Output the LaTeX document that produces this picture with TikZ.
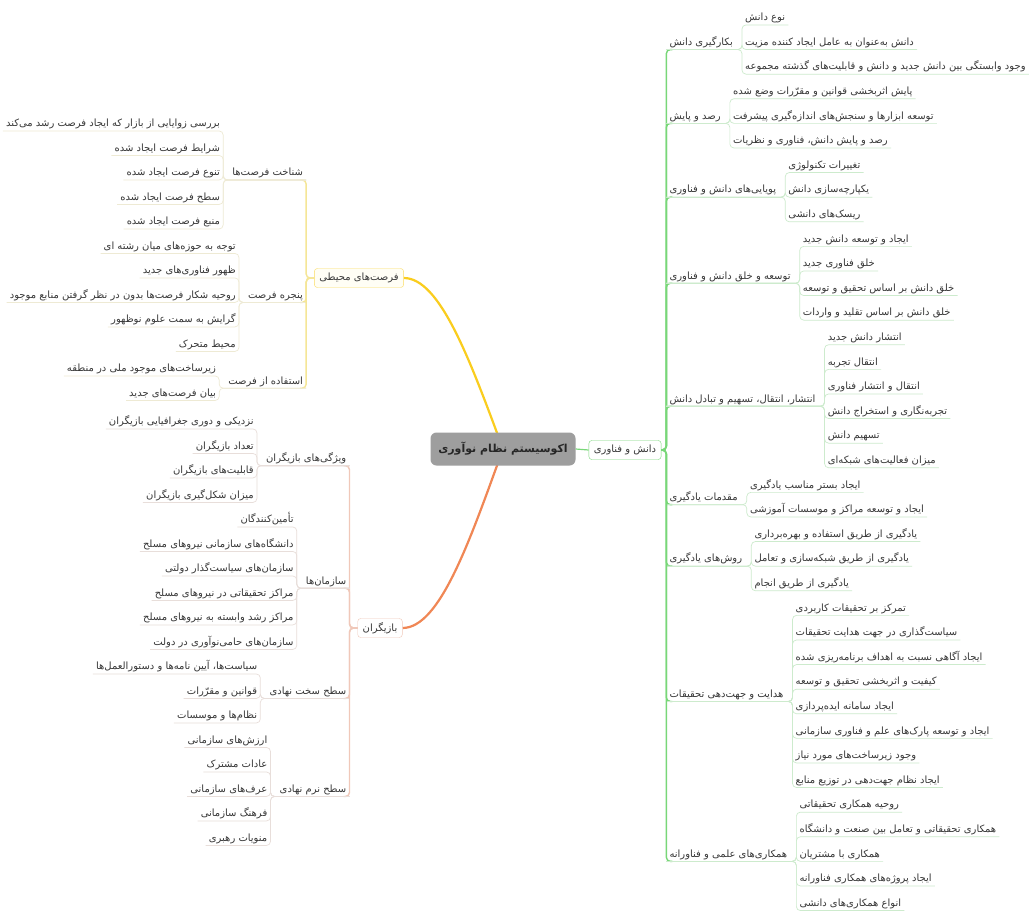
\documentclass[tikz,border=0pt]{standalone}
\usepackage{fontspec}
\usepackage{xcolor}
\usetikzlibrary{positioning,backgrounds}
\newfontfamily\fafont[Script=Arabic]{DejaVu Sans}
\TeXXeTstate=1
\newcommand{\fr}[1]{\beginR #1\endR}

\definecolor{txtgray}{RGB}{55,55,55}
\definecolor{greenT}{RGB}{120,215,120}
\definecolor{greenL}{RGB}{205,235,205}
\definecolor{yelC}{RGB}{250,205,30}
\definecolor{yelT}{RGB}{245,230,150}
\definecolor{yelL}{RGB}{238,234,212}
\definecolor{oraC}{RGB}{240,135,85}
\definecolor{oraT}{RGB}{240,200,185}
\definecolor{oraL}{RGB}{232,222,218}

\tikzset{
  every node/.style={font=\fafont\fontsize{10}{12}\selectfont, text=txtgray},
  leaf/.style={inner xsep=3pt, inner ysep=1pt, text height=8.5pt, text depth=3pt},
  lvtwo/.style={leaf},
  mainbox/.style={rounded corners=3pt, fill=white, inner xsep=5pt, minimum height=19pt},
  trunk/.style={rounded corners=4pt, line width=1.4pt},
  twig/.style={rounded corners=4pt, line width=0.7pt},
  branch/.style={line width=2.2pt},
}

\begin{document}
\begin{tikzpicture}[x=1pt,y=-1pt]
  \useasboundingbox (0,0) rectangle (1030,913);

  \node[fill=black!38, rounded corners=6pt, minimum width=145pt, minimum height=33pt,
        font=\fafont\bfseries\fontsize{11}{13}\selectfont, text=black!85] (eco) at (503,449) {\fr{اکوسیستم نظام نوآوری}};
  \node[mainbox, draw=greenT] (know) at (625,450) {\fr{دانش و فناوری}};
  \node[mainbox, draw=yelC!70, fill=yellow!4] (opp) at (359,278) {\fr{فرصت‌های محیطی}};
  \node[mainbox, draw=oraT] (act) at (380,628) {\fr{بازیگران}};

  \begin{scope}[on background layer]
    \fill[white] (0,0) rectangle (1030,913);
    \draw[branch, yelC] (eco.center) .. controls (470,360) and (440,278) .. (opp.east);
    \draw[branch, oraC] (eco.center) .. controls (470,540) and (440,628) .. (act.east);
    \draw[line width=1.2pt, greenT] (eco.east) -- (know.west);
  \end{scope}

  % right side: knowledge and technology
  \coordinate (kt) at ([xshift=5pt]know.east);
  \foreach \nm/\ptxt/\first/\last/\kids in {
    r1/بکارگیری دانش/0/2/{نوع دانش, دانش به‌عنوان به عامل ایجاد کننده مزیت, وجود وابستگی بین دانش جدید و دانش و قابلیت‌های گذشته مجموعه},
    r2/رصد و پایش/3/5/{پایش اثربخشی قوانین و مقرّرات وضع شده, توسعه ابزارها و سنجش‌های اندازه‌گیری پیشرفت, رصد و پایش دانش، فناوری و نظریات},
    r3/پویایی‌های دانش و فناوری/6/8/{تغییرات تکنولوژی, یکپارچه‌سازی دانش, ریسک‌های دانشی},
    r4/توسعه و خلق دانش و فناوری/9/12/{ایجاد و توسعه دانش جدید, خلق فناوری جدید, خلق دانش بر اساس تحقیق و توسعه, خلق دانش بر اساس تقلید و واردات},
    r5/انتشار، انتقال، تسهیم و تبادل دانش/13/18/{انتشار دانش جدید, انتقال تجربه, انتقال و انتشار فناوری, تجربه‌نگاری و استخراج دانش, تسهیم دانش, میزان فعالیت‌های شبکه‌ای},
    r6/مقدمات یادگیری/19/20/{ایجاد بستر مناسب یادگیری, ایجاد و توسعه مراکز و موسسات آموزشی},
    r7/روش‌های یادگیری/21/23/{یادگیری از طریق استفاده و بهره‌برداری, یادگیری از طریق شبکه‌سازی و تعامل, یادگیری از طریق انجام},
    r8/هدایت و جهت‌دهی تحقیقات/24/31/{تمرکز بر تحقیقات کاربردی, سیاست‌گذاری در جهت هدایت تحقیقات, ایجاد آگاهی نسبت به اهداف برنامه‌ریزی شده, کیفیت و اثربخشی تحقیق و توسعه, ایجاد سامانه ایده‌پردازی, ایجاد و توسعه پارک‌های علم و فناوری سازمانی, وجود زیرساخت‌های مورد نیاز, ایجاد نظام جهت‌دهی در توزیع منابع},
    r9/همکاری‌های علمی و فناورانه/32/36/{روحیه همکاری تحقیقاتی, همکاری تحقیقاتی و تعامل بین صنعت و دانشگاه, همکاری با مشتریان, ایجاد پروژه‌های همکاری فناورانه, انواع همکاری‌های دانشی}}{
    \pgfmathsetmacro{\py}{18+24.6*(\first+\last)/2}
    \node[lvtwo, anchor=west] (\nm) at (kt |- 0,\py) {\fr{\ptxt}};
    \draw[trunk, greenT] (know.east) -- (kt) |- ([xshift=6pt]\nm.south west);
    \coordinate (\nm b) at ([xshift=6pt]\nm.south east);
    \foreach \t [count=\i from \first] in \kids {
      \pgfmathsetmacro{\yy}{18+24.6*\i}
      \node[leaf, anchor=west] (\nm c\i) at (\nm b |- 0,\yy) {\fr{\t}};
      \draw[twig, greenL] (\nm.south west) -- (\nm b) |- (\nm c\i.south east);
    }
  }

  % left side, upper: opportunities
  \coordinate (ot) at ([xshift=-8pt]opp.west);
  \foreach \nm/\ptxt/\first/\last/\kids in {
    l1/شناخت فرصت‌ها/0/4/{بررسی زوایایی از بازار که ایجاد فرصت رشد می‌کند, شرایط فرصت ایجاد شده, تنوع فرصت ایجاد شده, سطح فرصت ایجاد شده, منبع فرصت ایجاد شده},
    l2/پنجره فرصت/5/9/{توجه به حوزه‌های میان رشته ای, ظهور فناوری‌های جدید, روحیه شکار فرصت‌ها بدون در نظر گرفتن منابع موجود, گرایش به سمت علوم نوظهور, محیط متحرک},
    l3/استفاده از فرصت/10/11/{زیرساخت‌های موجود ملی در منطقه, بیان فرصت‌های جدید}}{
    \pgfmathsetmacro{\py}{124+24.5*(\first+\last)/2}
    \node[lvtwo, anchor=east] (\nm) at (ot |- 0,\py) {\fr{\ptxt}};
    \draw[trunk, yelT] (opp.west) -- (ot) |- ([xshift=-6pt]\nm.south east);
    \coordinate (\nm b) at ([xshift=-6pt]\nm.south west);
    \foreach \t [count=\i from \first] in \kids {
      \pgfmathsetmacro{\yy}{124+24.5*\i}
      \node[leaf, anchor=east] (\nm c\i) at (\nm b |- 0,\yy) {\fr{\t}};
      \draw[twig, yelL] (\nm.south east) -- (\nm b) |- (\nm c\i.south west);
    }
  }

  % left side, lower: actors
  \coordinate (at) at ([xshift=-8pt]act.west);
  \foreach \nm/\ptxt/\first/\last/\kids in {
    b1/ویژگی‌های بازیگران/0/3/{نزدیکی و دوری جغرافیایی بازیگران, تعداد بازیگران, قابلیت‌های بازیگران, میزان شکل‌گیری بازیگران},
    b2/سازمان‌ها/4/9/{تأمین‌کنندگان, دانشگاه‌های سازمانی نیروهای مسلح, سازمان‌های سیاست‌گذار دولتی, مراکز تحقیقاتی در نیروهای مسلح, مراکز رشد وابسته به نیروهای مسلح, سازمان‌های حامی‌نوآوری در دولت},
    b3/سطح سخت نهادی/10/12/{سیاست‌ها، آیین نامه‌ها و دستورالعمل‌ها, قوانین و مقرّرات, نظام‌ها و موسسات},
    b4/سطح نرم نهادی/13/17/{ارزش‌های سازمانی, عادات مشترک, عرف‌های سازمانی, فرهنگ سازمانی, منویات رهبری}}{
    \pgfmathsetmacro{\py}{422+24.5*(\first+\last)/2}
    \node[lvtwo, anchor=east] (\nm) at (at |- 0,\py) {\fr{\ptxt}};
    \draw[trunk, oraT] (act.west) -- (at) |- ([xshift=-6pt]\nm.south east);
    \coordinate (\nm b) at ([xshift=-6pt]\nm.south west);
    \foreach \t [count=\i from \first] in \kids {
      \pgfmathsetmacro{\yy}{422+24.5*\i}
      \node[leaf, anchor=east] (\nm c\i) at (\nm b |- 0,\yy) {\fr{\t}};
      \draw[twig, oraL] (\nm.south east) -- (\nm b) |- (\nm c\i.south west);
    }
  }
\end{tikzpicture}
\end{document}
